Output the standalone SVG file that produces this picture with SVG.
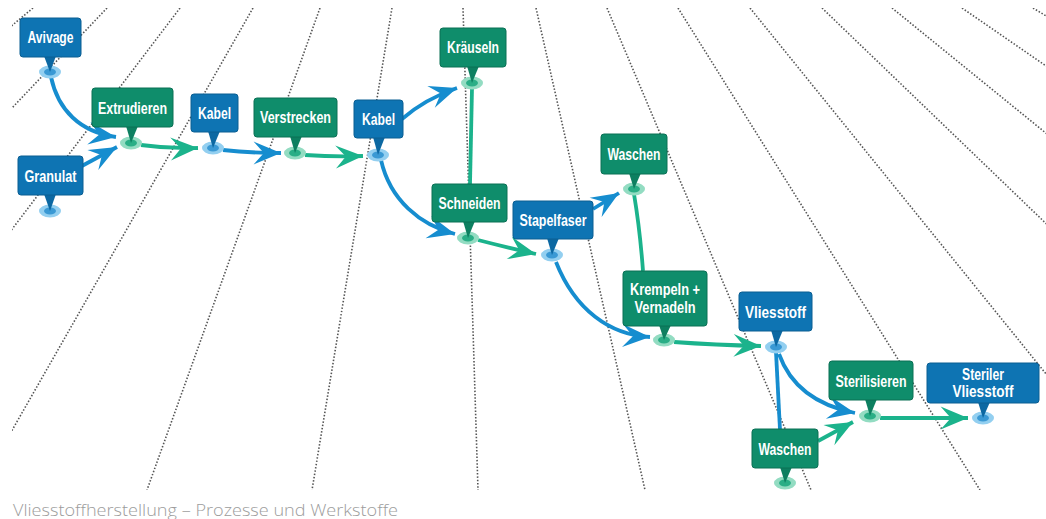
<svg xmlns="http://www.w3.org/2000/svg" width="1046" height="519" viewBox="0 0 1046 519">
<style>
.bg{fill:#ffffff}
.dot{fill:none;stroke:#555555;stroke-width:1.6;stroke-dasharray:1.5 1.8}
.cb{fill:none;stroke:#168dcf;stroke-width:3.8}
.cg{fill:none;stroke:#1bb38c;stroke-width:3.8}
.boxb{fill:#0e74b3;stroke:#0a5e92;stroke-width:1}
.boxg{fill:#0f8d6b;stroke:#0b7055;stroke-width:1}
.pb{fill:#0c68a2}
.pg{fill:#0d7f60}
.rb{fill:#93cff0}
.ib{fill:#3a99d4}
.rg{fill:#93dcc2}
.ig{fill:#2aae86}
.t{font-family:"Liberation Sans Narrow","Liberation Sans",Arial,sans-serif;font-weight:bold;font-size:16px;fill:#ffffff;text-anchor:middle}
.cap{font-family:"Open Sans","Liberation Sans",sans-serif;font-weight:300;font-size:16.5px;fill:#9c9c9c}
</style>
<defs>
<clipPath id="area"><rect x="12" y="8" width="1034" height="482"/></clipPath>
<marker id="ab" markerUnits="userSpaceOnUse" markerWidth="32" markerHeight="32" viewBox="-26 -13 28 26" refX="0" refY="0" orient="auto"><path d="M0,0 L-24,-10 L-15,0 L-24,10 Z" fill="#168dcf"/></marker>
<marker id="ag" markerUnits="userSpaceOnUse" markerWidth="32" markerHeight="32" viewBox="-26 -13 28 26" refX="0" refY="0" orient="auto"><path d="M0,0 L-24,-10 L-15,0 L-24,10 Z" fill="#1bb38c"/></marker>
</defs>
<rect class="bg" x="0" y="0" width="1046" height="519"/>
<g id="grid" clip-path="url(#area)">
<line class="dot" x1="33" y1="8" x2="-545" y2="490"/>
<line class="dot" x1="107" y1="8" x2="-351" y2="490"/>
<line class="dot" x1="180" y1="8" x2="-186" y2="490"/>
<line class="dot" x1="253" y1="8" x2="-22" y2="490"/>
<line class="dot" x1="320" y1="8" x2="147" y2="490"/>
<line class="dot" x1="392" y1="8" x2="312" y2="490"/>
<line class="dot" x1="463" y1="8" x2="478" y2="490"/>
<line class="dot" x1="536" y1="8" x2="645" y2="490"/>
<line class="dot" x1="607" y1="8" x2="811" y2="490"/>
<line class="dot" x1="678" y1="8" x2="980" y2="490"/>
<line class="dot" x1="750" y1="8" x2="1140" y2="490"/>
<line class="dot" x1="822" y1="8" x2="1323" y2="490"/>
<line class="dot" x1="892" y1="8" x2="1485" y2="490"/>
<line class="dot" x1="962" y1="8" x2="1661" y2="490"/>
<line class="dot" x1="1033" y1="8" x2="1828" y2="490"/>
</g>
<g id="connectors">
<path class="cb" d="M51 77 C58 110 80 132 116 137" marker-end="url(#ab)"/>
<path class="cb" d="M80 167 L117 147" marker-end="url(#ab)"/>
<path class="cg" d="M141 145 Q170 149 198 148" marker-end="url(#ag)"/>
<path class="cb" d="M223 150 Q250 153 281 153" marker-end="url(#ab)"/>
<path class="cg" d="M305 155 Q335 157 363 156" marker-end="url(#ag)"/>
<path class="cb" d="M402 119 Q425 99 457 88" marker-end="url(#ab)"/>
<path class="cg" d="M472 88 L470 184"/>
<path class="cb" d="M381 160 C390 200 420 225 455 234" marker-end="url(#ab)"/>
<path class="cg" d="M478 240 Q505 247 536 254" marker-end="url(#ag)"/>
<path class="cb" d="M593 209 L619 193" marker-end="url(#ab)"/>
<path class="cg" d="M634 194 Q640 230 643 271"/>
<path class="cb" d="M556 262 C575 310 610 335 650 337" marker-end="url(#ab)"/>
<path class="cg" d="M674 342 Q715 345 761 346" marker-end="url(#ag)"/>
<path class="cb" d="M776 352 L780 430"/>
<path class="cb" d="M779 354 C790 385 815 405 855 413" marker-end="url(#ab)"/>
<path class="cg" d="M818 441 L853 422" marker-end="url(#ag)"/>
<path class="cg" d="M880 418 L968 418" marker-end="url(#ag)"/>
</g>
<g id="n-avivage"><ellipse class="rb" cx="50" cy="72" rx="11" ry="6.5"/><ellipse class="ib" cx="50" cy="72" rx="6" ry="3.5"/><polygon class="pb" points="44,56 56,56 50,72"/><rect class="boxb" x="20" y="18" width="61" height="39" rx="3"/><text class="t" x="50.5" y="43" textLength="46" lengthAdjust="spacingAndGlyphs">Avivage</text></g>
<g id="n-granulat"><ellipse class="rb" cx="50" cy="211" rx="11" ry="6.5"/><ellipse class="ib" cx="50" cy="211" rx="6" ry="3.5"/><polygon class="pb" points="44,194 56,194 50,211"/><rect class="boxb" x="18" y="156" width="65" height="39" rx="3"/><text class="t" x="50.5" y="182" textLength="52" lengthAdjust="spacingAndGlyphs">Granulat</text></g>
<g id="n-extrudieren"><ellipse class="rg" cx="131" cy="143" rx="11" ry="6.5"/><ellipse class="ig" cx="131" cy="143" rx="6" ry="3.5"/><polygon class="pg" points="126,126 138,126 131,143"/><rect class="boxg" x="92" y="88" width="81" height="39" rx="3"/><text class="t" x="132.5" y="113.5" textLength="69" lengthAdjust="spacingAndGlyphs">Extrudieren</text></g>
<g id="n-kabel1"><ellipse class="rb" cx="213" cy="148" rx="11" ry="6.5"/><ellipse class="ib" cx="213" cy="148" rx="6" ry="3.5"/><polygon class="pb" points="208,131 220,131 213,148"/><rect class="boxb" x="191" y="94" width="47" height="38" rx="3"/><text class="t" x="214.5" y="119" textLength="33" lengthAdjust="spacingAndGlyphs">Kabel</text></g>
<g id="n-verstrecken"><ellipse class="rg" cx="295" cy="153" rx="11" ry="6.5"/><ellipse class="ig" cx="295" cy="153" rx="6" ry="3.5"/><polygon class="pg" points="290,136 302,136 295,153"/><rect class="boxg" x="254" y="98" width="83" height="39" rx="3"/><text class="t" x="295.5" y="123" textLength="71" lengthAdjust="spacingAndGlyphs">Verstrecken</text></g>
<g id="n-kabel2"><ellipse class="rb" cx="378" cy="155" rx="11" ry="6.5"/><ellipse class="ib" cx="378" cy="155" rx="6" ry="3.5"/><polygon class="pb" points="373,137 385,137 378,155"/><rect class="boxb" x="354" y="100" width="49" height="38" rx="3"/><text class="t" x="378.5" y="125" textLength="33" lengthAdjust="spacingAndGlyphs">Kabel</text></g>
<g id="n-kraeuseln"><ellipse class="rg" cx="472" cy="83" rx="11" ry="6.5"/><ellipse class="ig" cx="472" cy="83" rx="6" ry="3.5"/><polygon class="pg" points="467,66 479,66 472,83"/><rect class="boxg" x="440" y="28" width="66" height="39" rx="3"/><text class="t" x="473" y="53" textLength="52" lengthAdjust="spacingAndGlyphs">Kräuseln</text></g>
<g id="n-schneiden"><ellipse class="rg" cx="468" cy="238" rx="11" ry="6.5"/><ellipse class="ig" cx="468" cy="238" rx="6" ry="3.5"/><polygon class="pg" points="463,221 475,221 468,238"/><rect class="boxg" x="432" y="184" width="75" height="38" rx="3"/><text class="t" x="469.5" y="209" textLength="62" lengthAdjust="spacingAndGlyphs">Schneiden</text></g>
<g id="n-stapelfaser"><ellipse class="rb" cx="552" cy="255" rx="11" ry="6.5"/><ellipse class="ib" cx="552" cy="255" rx="6" ry="3.5"/><polygon class="pb" points="547,238 559,238 552,255"/><rect class="boxb" x="513" y="201" width="80" height="38" rx="3"/><text class="t" x="553" y="226" textLength="67" lengthAdjust="spacingAndGlyphs">Stapelfaser</text></g>
<g id="n-waschen1"><ellipse class="rg" cx="634" cy="189" rx="11" ry="6.5"/><ellipse class="ig" cx="634" cy="189" rx="6" ry="3.5"/><polygon class="pg" points="629,173 641,173 634,189"/><rect class="boxg" x="601" y="134" width="66" height="40" rx="3"/><text class="t" x="634" y="160" textLength="53" lengthAdjust="spacingAndGlyphs">Waschen</text></g>
<g id="n-krempeln"><ellipse class="rg" cx="664" cy="340" rx="11" ry="6.5"/><ellipse class="ig" cx="664" cy="340" rx="6" ry="3.5"/><polygon class="pg" points="659,325 671,325 664,340"/><rect class="boxg" x="623" y="271" width="84" height="55" rx="3"/><text class="t" x="665" y="295" textLength="70" lengthAdjust="spacingAndGlyphs">Krempeln +</text><text class="t" x="665" y="312.5" textLength="61" lengthAdjust="spacingAndGlyphs">Vernadeln</text></g>
<g id="n-vliesstoff"><ellipse class="rb" cx="776" cy="347" rx="11" ry="6.5"/><ellipse class="ib" cx="776" cy="347" rx="6" ry="3.5"/><polygon class="pb" points="771,330 783,330 776,347"/><rect class="boxb" x="739" y="292" width="73" height="39" rx="3"/><text class="t" x="775.5" y="318" textLength="61" lengthAdjust="spacingAndGlyphs">Vliesstoff</text></g>
<g id="n-sterilisieren"><ellipse class="rg" cx="870" cy="416" rx="11" ry="6.5"/><ellipse class="ig" cx="870" cy="416" rx="6" ry="3.5"/><polygon class="pg" points="865,399 877,399 870,416"/><rect class="boxg" x="829" y="361" width="84" height="39" rx="3"/><text class="t" x="871" y="386.5" textLength="71" lengthAdjust="spacingAndGlyphs">Sterilisieren</text></g>
<g id="n-steriler"><ellipse class="rb" cx="983" cy="418" rx="11" ry="6.5"/><ellipse class="ib" cx="983" cy="418" rx="6" ry="3.5"/><polygon class="pb" points="978,402 990,402 983,418"/><rect class="boxb" x="927" y="363" width="112" height="40" rx="3"/><text class="t" x="983" y="380" textLength="42" lengthAdjust="spacingAndGlyphs">Steriler</text><text class="t" x="983" y="397" textLength="61" lengthAdjust="spacingAndGlyphs">Vliesstoff</text></g>
<g id="n-waschen2"><ellipse class="rg" cx="785" cy="483" rx="11" ry="6.5"/><ellipse class="ig" cx="785" cy="483" rx="6" ry="3.5"/><polygon class="pg" points="780,467 792,467 785,483"/><rect class="boxg" x="752" y="429" width="66" height="39" rx="3"/><text class="t" x="785" y="455" textLength="53" lengthAdjust="spacingAndGlyphs">Waschen</text></g>
<text class="cap" x="13" y="516" textLength="385" lengthAdjust="spacingAndGlyphs">Vliesstoffherstellung – Prozesse und Werkstoffe</text>
</svg>
